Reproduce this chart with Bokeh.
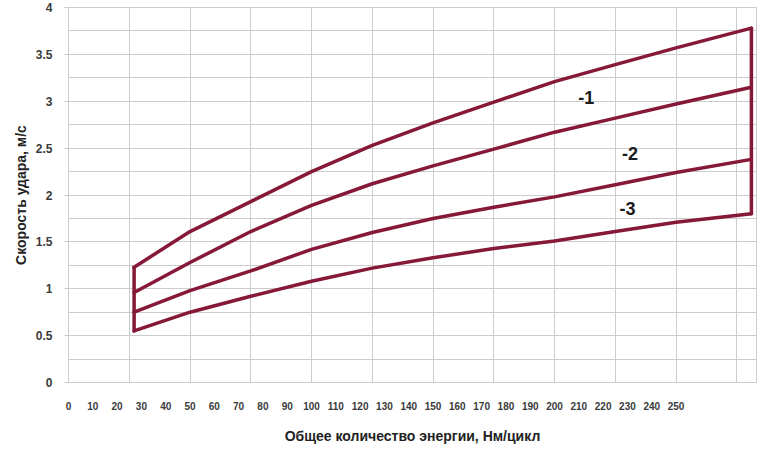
from bokeh.plotting import figure
from bokeh.models import FixedTicker, Range1d, ColumnDataSource
from bokeh.core.properties import value
from bokeh.embed import file_html
from bokeh.resources import INLINE

# ---- data ----
energy = [27, 50, 75, 100, 125, 150, 175, 200, 225, 250, 281]
speed_1 = [1.23, 1.61, 1.93, 2.25, 2.53, 2.77, 2.99, 3.21, 3.39, 3.57, 3.78]
speed_2 = [0.96, 1.28, 1.61, 1.89, 2.12, 2.31, 2.49, 2.67, 2.82, 2.97, 3.15]
speed_3 = [0.75, 0.98, 1.19, 1.42, 1.60, 1.75, 1.87, 1.98, 2.11, 2.24, 2.38]
speed_4 = [0.55, 0.75, 0.92, 1.08, 1.22, 1.33, 1.43, 1.51, 1.61, 1.71, 1.80]

label_text = ["-1", "-2", "-3"]
label_x = [213, 231, 230]
label_y = [3.04, 2.44, 1.86]

x_ticks = [0, 10, 20, 30, 40, 50, 60, 70, 80, 90, 100, 110, 120, 130, 140, 150,
           160, 170, 180, 190, 200, 210, 220, 230, 240, 250]
y_ticks = [0, 0.5, 1, 1.5, 2, 2.5, 3, 3.5, 4]
y_tick_labels = ["0", "0.5", "1", "1.5", "2", "2.5", "3", "3.5", "4"]
x_grid = [25, 50, 75, 100, 125, 150, 175, 200, 225, 250, 275]
y_grid = [0.25, 0.5, 0.75, 1, 1.25, 1.5, 1.75, 2, 2.25, 2.5, 2.75, 3, 3.25, 3.5, 3.75]

x_title = "Общее количество энергии, Нм/цикл"
y_title = "Скорость удара, м/с"

# ---- styling ----
LINE = "#861838"
GRID = "#cccccc"
FONT = "Liberation Sans"

p = figure(width=764, height=449,
           x_range=Range1d(0, 283.1), y_range=Range1d(0, 4.0),
           output_backend="svg", toolbar_location=None,
           min_border_left=68, min_border_right=8,
           min_border_top=7, min_border_bottom=67)

p.background_fill_color = "white"
p.border_fill_color = "white"
p.outline_line_color = GRID
p.outline_line_width = 1

p.xgrid.ticker = FixedTicker(ticks=x_grid)
p.ygrid.ticker = FixedTicker(ticks=y_grid)
p.xgrid.grid_line_color = GRID
p.ygrid.grid_line_color = GRID
p.xgrid.grid_line_width = 1
p.ygrid.grid_line_width = 1

xa = p.xaxis[0]
xa.ticker = FixedTicker(ticks=x_ticks)
xa.axis_line_color = GRID
xa.major_tick_line_color = None
xa.minor_tick_line_color = None
xa.major_tick_out = 4
xa.major_label_standoff = 15
xa.major_label_text_font = FONT
xa.major_label_text_font_size = "10px"
xa.major_label_text_font_style = "bold"
xa.major_label_text_color = "#3a3a3a"
xa.axis_label = x_title
xa.axis_label_text_font = FONT
xa.axis_label_text_font_size = "14px"
xa.axis_label_text_font_style = "bold"
xa.axis_label_text_color = "#222222"
xa.axis_label_standoff = 15

ya = p.yaxis[0]
ya.ticker = FixedTicker(ticks=y_ticks)
ya.major_label_overrides = {t: s for t, s in zip(y_ticks, y_tick_labels)}
ya.axis_line_color = GRID
ya.major_tick_line_color = GRID
ya.minor_tick_line_color = None
ya.major_tick_out = 4
ya.major_tick_in = 0
ya.major_label_standoff = 12
ya.major_label_text_font = FONT
ya.major_label_text_font_size = "12px"
ya.major_label_text_font_style = "bold"
ya.major_label_text_color = "#3a3a3a"
ya.axis_label = y_title
ya.axis_label_text_font = FONT
ya.axis_label_text_font_size = "14px"
ya.axis_label_text_font_style = "bold"
ya.axis_label_text_color = "#222222"
ya.axis_label_standoff = 4

for s in (speed_1, speed_2, speed_3, speed_4):
    p.line(energy, s, line_color=LINE, line_width=3.5,
           line_join="round", line_cap="round")

# closing vertical edges at the first and last energy values
p.segment(x0=[energy[0], energy[-1]], y0=[speed_4[0], speed_4[-1]],
          x1=[energy[0], energy[-1]], y1=[speed_1[0], speed_1[-1]],
          line_color=LINE, line_width=3.5, line_cap="round")

src = ColumnDataSource(dict(x=label_x, y=label_y, t=label_text))
p.text(x="x", y="y", text="t", source=src,
       text_font=value(FONT), text_font_size="18px", text_font_style="bold",
       text_color="#1a1a1a", text_align="center", text_baseline="middle")

open("out.html", "w").write(file_html(p, INLINE))
